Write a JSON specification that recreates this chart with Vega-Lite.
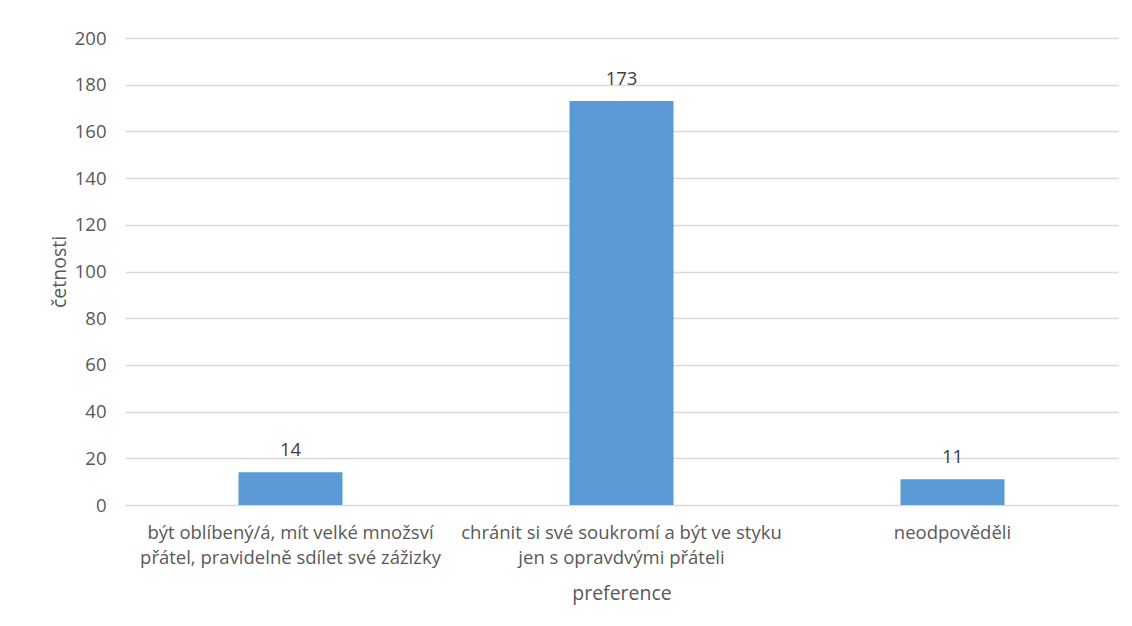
{
  "$schema": "https://vega.github.io/schema/vega-lite/v6.json",
  "width": 993,
  "height": 467,
  "autosize": {"type": "none"},
  "padding": {"left": 125, "top": 38, "right": 14, "bottom": 121},
  "background": "white",
  "config": {
    "view": {"stroke": null},
    "font": "Open Sans",
    "axis": {"labelColor": "#595959", "titleColor": "#595959", "labelFont": "Open Sans", "titleFont": "Open Sans", "titleFontWeight": "normal"}
  },
  "data": {
    "values": [
      {"preference": "být oblíbený/á, mít velké množsví\npřátel, pravidelně sdílet své zážizky", "cetnosti": 14},
      {"preference": "chránit si své soukromí a být ve styku\njen s opravdvými přáteli", "cetnosti": 173},
      {"preference": "neodpověděli", "cetnosti": 11}
    ]
  },
  "encoding": {
    "x": {
      "field": "preference",
      "type": "nominal",
      "sort": null,
      "scale": {"paddingInner": 0, "paddingOuter": 0},
      "axis": {
        "title": "preference",
        "labelAngle": 0,
        "labelExpr": "split(datum.value, '\\n')",
        "labelFontSize": 18.5,
        "labelLineHeight": 25,
        "labelPadding": 18,
        "labelLimit": 450,
        "ticks": false,
        "domain": false,
        "titleFontSize": 19.5,
        "titlePadding": 18
      }
    },
    "y": {
      "field": "cetnosti",
      "type": "quantitative",
      "scale": {"domain": [0, 200]},
      "axis": {
        "title": "četnosti",
        "values": [0, 20, 40, 60, 80, 100, 120, 140, 160, 180, 200],
        "labelFontSize": 18.5,
        "labelPadding": 19,
        "ticks": false,
        "domain": false,
        "gridColor": "#d9d9d9",
        "gridWidth": 1.5,
        "titleFontSize": 19.5,
        "titlePadding": 5
      }
    }
  },
  "layer": [
    {"mark": {"type": "bar", "width": 104, "color": "#5B9BD5"}},
    {
      "mark": {"type": "text", "dy": -22, "fontSize": 18.5, "color": "#404040", "font": "Open Sans"},
      "encoding": {"text": {"field": "cetnosti", "type": "quantitative"}}
    }
  ]
}
